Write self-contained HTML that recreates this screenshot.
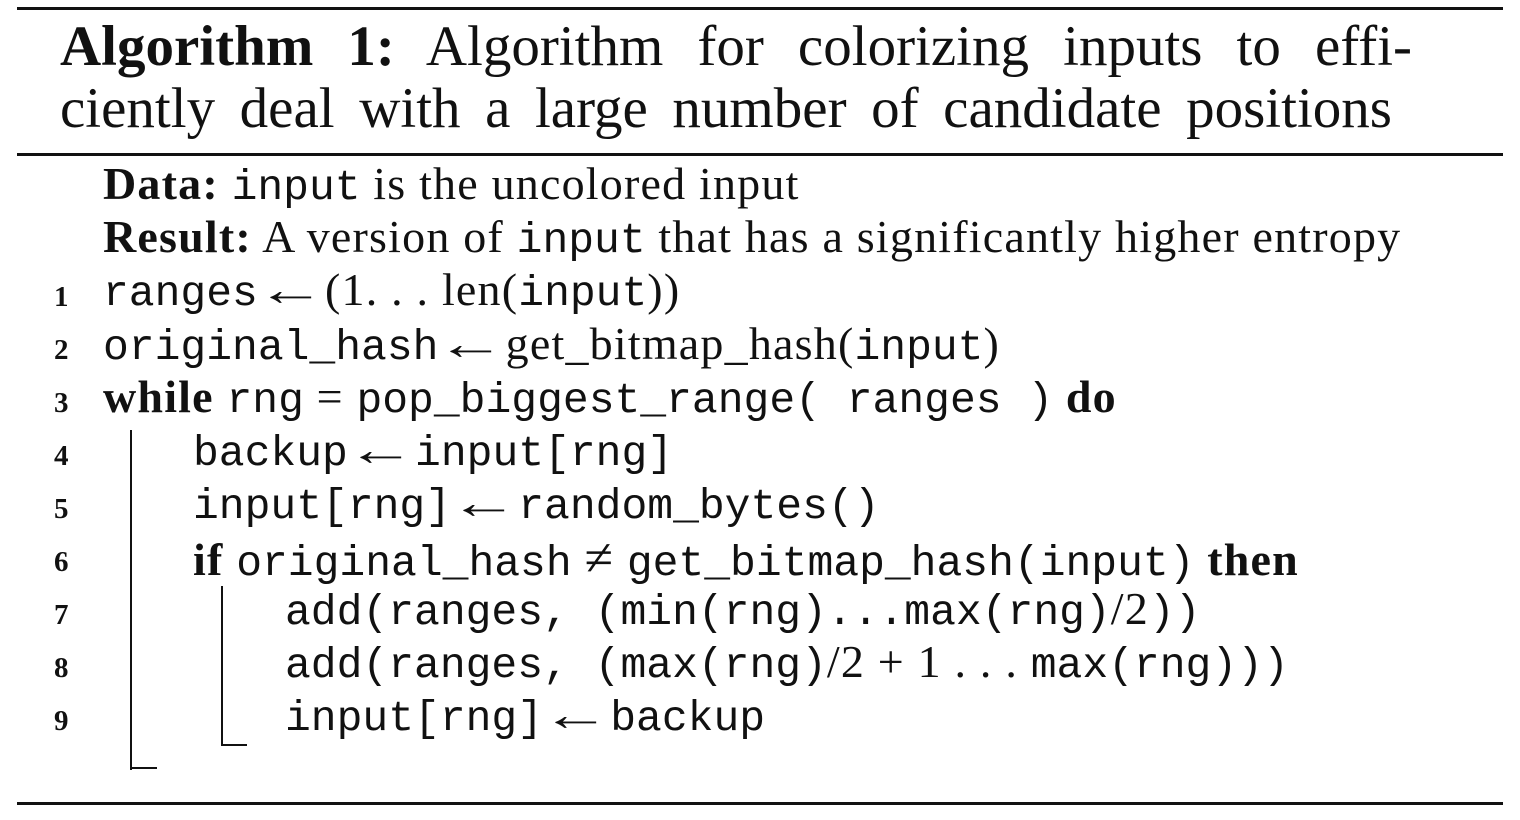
<!DOCTYPE html>
<html><head><meta charset="utf-8">
<style>
html,body{margin:0;padding:0;background:#fff;}
#box{position:relative;width:1520px;height:820px;overflow:hidden;background:#fff;color:#111;font-family:"Liberation Serif",serif;}
.rule{position:absolute;left:17px;width:1486px;background:#111;}
.t{position:absolute;font-size:57px;line-height:1;white-space:nowrap;}
.l{position:absolute;left:103px;font-size:46px;line-height:1;white-space:pre;letter-spacing:1.2px;}
.n{position:absolute;left:54px;font-size:29px;font-weight:bold;line-height:1;}
.m{font-family:"Liberation Mono",monospace;font-size:43px;letter-spacing:0;}
.a{display:inline-block;font-size:46px;transform:scaleX(1.5);margin:0 10px;}
b{font-weight:bold;}
.v{position:absolute;background:#111;}
</style></head><body>
<div id="box">
<div class="rule" style="top:7px;height:3px"></div>
<div class="t" style="top:18px;left:60px;width:1352px;text-align:justify;text-align-last:justify;white-space:normal"><b>Algorithm 1:</b> Algorithm for colorizing inputs to effi-</div>
<div class="t" style="top:80px;left:60px;width:1332px;text-align:justify;text-align-last:justify;white-space:normal">ciently deal with a large number of candidate positions</div>
<div class="rule" style="top:153px;height:3px"></div>

<div class="l" style="top:161px"><b>Data:</b> <span class="m">input</span> is the uncolored input</div>
<div class="l" style="top:214px"><b>Result:</b> A version of <span class="m">input</span> that has a significantly higher entropy</div>

<div class="n" style="top:283px">1</div>
<div class="l" style="top:267px"><span class="m">ranges</span><span class="a">←</span>(1. . . len(<span class="m">input</span>))</div>
<div class="n" style="top:336px">2</div>
<div class="l" style="top:321px"><span class="m">original_hash</span><span class="a">←</span>get_bitmap_hash(<span class="m">input</span>)</div>
<div class="n" style="top:389px">3</div>
<div class="l" style="top:374px"><b>while</b> <span class="m">rng</span> = <span class="m">pop_biggest_range( ranges )</span> <b>do</b></div>
<div class="n" style="top:442px">4</div>
<div class="l" style="top:427px;left:193px"><span class="m">backup</span><span class="a">←</span><span class="m">input[rng]</span></div>
<div class="n" style="top:495px">5</div>
<div class="l" style="top:480px;left:193px"><span class="m">input[rng]</span><span class="a">←</span><span class="m">random_bytes()</span></div>
<div class="n" style="top:548px">6</div>
<div class="l" style="top:533px;left:193px"><b>if</b> <span class="m">original_hash</span> <span style="font-size:52px">≠</span> <span class="m">get_bitmap_hash(input)</span> <b>then</b></div>
<div class="n" style="top:601px">7</div>
<div class="l" style="top:586px;left:285px"><span class="m">add(ranges, (min(rng)...max(rng)</span>/2<span class="m">))</span></div>
<div class="n" style="top:654px">8</div>
<div class="l" style="top:639px;left:285px"><span class="m">add(ranges, (max(rng)</span>/2 + 1 . . . <span class="m">max(rng)))</span></div>
<div class="n" style="top:707px">9</div>
<div class="l" style="top:692px;left:285px"><span class="m">input[rng]</span><span class="a">←</span><span class="m">backup</span></div>

<div class="v" style="left:130px;top:430px;width:2px;height:340px"></div>
<div class="v" style="left:130px;top:767px;width:27px;height:2px"></div>
<div class="v" style="left:221px;top:586px;width:2px;height:160px"></div>
<div class="v" style="left:221px;top:744px;width:26px;height:2px"></div>

<div class="rule" style="top:802px;height:3px"></div>
</div>
</body></html>
